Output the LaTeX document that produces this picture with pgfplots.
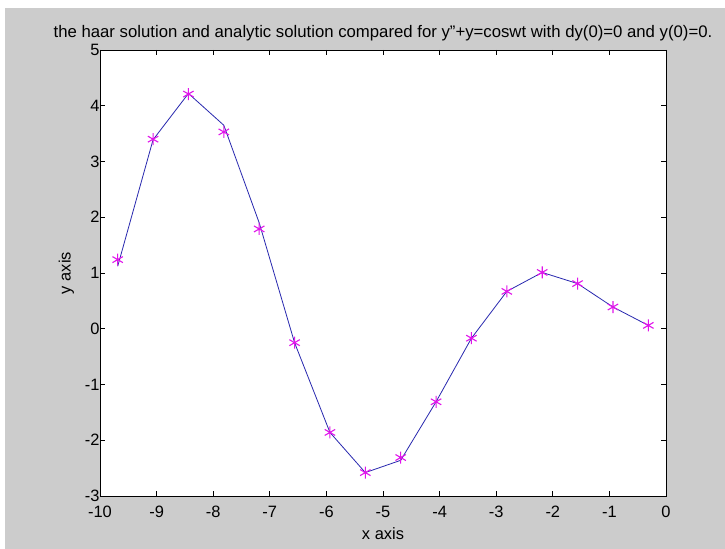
\documentclass[border=0pt]{standalone}
\usepackage{pgfplots}
\pgfplotsset{compat=1.18}
\usepackage{fontspec}
\setmainfont{Liberation Sans}
\definecolor{figgray}{RGB}{204,204,204}
\definecolor{linblue}{RGB}{40,40,175}
\definecolor{mkmag}{RGB}{225,20,235}
\begin{document}
\begin{tikzpicture}[x=1bp,y=1bp]
\fill[figgray] (0,0) rectangle (725,549);
\fill[white] (0,541) rectangle (725,549);
\fill[white] (0,0) rectangle (5,549);
\begin{axis}[
  at={(100bp,53bp)}, anchor=south west,
  width=566bp, height=446bp, scale only axis,
  xmin=-10, xmax=0, ymin=-3, ymax=5,
  xtick={-10,-9,-8,-7,-6,-5,-4,-3,-2,-1,0},
  xticklabels={-10,-9,-8,-7,-6,-5,-4,-3,-2,-1,0},
  ytick={-3,-2,-1,0,1,2,3,4,5},
  yticklabels={-3,-2,-1,0,1,2,3,4,5},
  tick align=inside, major tick length=5bp,
  axis line style={line width=0.8bp},
  every tick/.style={black, line width=0.8bp},
  axis background/.style={fill=white},
  tick label style={font=\fontsize{16.5}{18}\selectfont},
  xticklabel style={yshift=-7bp},
  yticklabel style={xshift=3bp},
  title={the haar solution and analytic solution compared for y"+y=coswt with dy(0)=0 and y(0)=0.},
  title style={font=\fontsize{16.8}{18}\selectfont, at={(0.5,1)}, anchor=south, yshift=0bp},
  xlabel={x axis}, ylabel={y axis},
  label style={font=\fontsize{16.5}{18}\selectfont},
  xlabel style={yshift=-3bp},
  ylabel style={yshift=4bp},
]
\addplot[linblue, line width=0.8bp] coordinates {
(-9.6875,1.12) (-9.0625,3.39) (-8.4375,4.22) (-7.8125,3.65) (-7.1875,1.90)
(-6.5625,-0.25) (-5.9375,-1.86) (-5.3125,-2.58) (-4.6875,-2.36) (-4.0625,-1.31)
(-3.4375,-0.17) (-2.8125,0.67) (-2.1875,1.01) (-1.5625,0.81) (-0.9375,0.39) (-0.3125,0.06)};
\addplot[only marks, mkmag, mark=asterisk, mark size=6bp, mark options={line width=1.1bp}] coordinates {
(-9.6875,1.24) (-9.0625,3.40) (-8.4375,4.21) (-7.8125,3.53) (-7.1875,1.79)
(-6.5625,-0.25) (-5.9375,-1.86) (-5.3125,-2.58) (-4.6875,-2.31) (-4.0625,-1.31)
(-3.4375,-0.17) (-2.8125,0.67) (-2.1875,1.01) (-1.5625,0.81) (-0.9375,0.39) (-0.3125,0.06)};
\end{axis}
\end{tikzpicture}
\end{document}
